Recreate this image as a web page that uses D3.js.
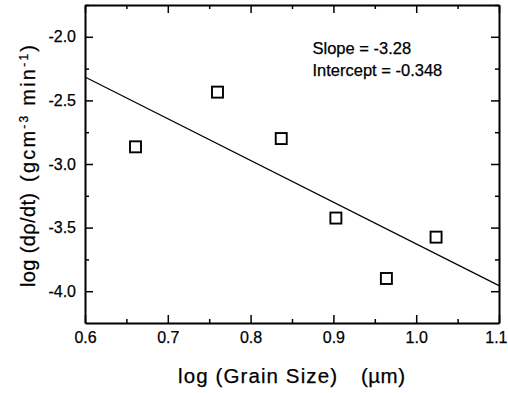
<!DOCTYPE html>
<html><head><meta charset="utf-8">
<script src="https://cdn.jsdelivr.net/npm/d3@7"></script>
<style>body{margin:0;background:#fff}svg{display:block}text{font-family:"Liberation Sans",Arial,sans-serif;fill:#000;stroke:#000;stroke-width:0.25px}</style>
</head><body>
<svg id="c" width="508" height="393"></svg>
<script>
const grainLog = [0.661, 0.760, 0.837, 0.903, 0.964, 1.024];
const rateLog = [-2.865, -2.435, -2.80, -3.425, -3.90, -3.575];
const slope = -3.28, intercept = -0.348;
const xTicks = [0.6, 0.7, 0.8, 0.9, 1.0, 1.1];
const yTicks = [-2.0, -2.5, -3.0, -3.5, -4.0];
const xMinor = [0.65, 0.75, 0.85, 0.95, 1.05];
const yMinor = [-1.75, -2.25, -2.75, -3.25, -3.75];
const xDomain = [0.6, 1.1], yDomain = [-4.25, -1.75];

const svg = d3.select("#c");
const L = 85, R = 499, T = 5, B = 323;
const x = d3.scaleLinear().domain(xDomain).range([L, R]);
const y = d3.scaleLinear().domain(yDomain).range([B, T]);

function axis(gen, tr, ticks, minor, fmt, pad) {
  const g = svg.append("g").attr("transform", tr).call(gen.tickValues(ticks).tickSizeInner(-8).tickSizeOuter(0).tickPadding(pad).tickFormat(fmt));
  g.select(".domain").attr("stroke-width", 2);
  g.selectAll(".tick line").attr("stroke-width", 1.5);
  g.selectAll("text").attr("font-size", 16).attr("fill", "#000").attr("font-family", null);
  const gm = svg.append("g").attr("transform", tr).call(gen.tickValues(minor).tickSizeInner(-4).tickFormat(""));
  gm.select(".domain").remove();
  gm.selectAll(".tick line").attr("stroke-width", 1.5);
  return g;
}
const f1 = d => d3.format(".1f")(d).replace("\u2212", "-");
const gx = axis(d3.axisBottom(x), `translate(0,${B})`, xTicks, xMinor, f1, 9);
gx.selectAll(".tick").filter(d => d === xDomain[1]).select("text").attr("text-anchor", "end").attr("x", 8);
axis(d3.axisLeft(y), `translate(${L},0)`, yTicks, yMinor, f1, 9);
const gt = axis(d3.axisTop(x), `translate(0,${T})`, xTicks, xMinor, "", 0); gt.selectAll("text").remove();
const gr = axis(d3.axisRight(y), `translate(${R},0)`, yTicks, yMinor, "", 0); gr.selectAll("text").remove();

// fit line
svg.append("line")
  .attr("x1", x(xDomain[0])).attr("y1", y(intercept + slope * xDomain[0]))
  .attr("x2", x(xDomain[1])).attr("y2", y(intercept + slope * xDomain[1]))
  .attr("stroke", "#000").attr("stroke-width", 1.2);

svg.selectAll("rect.pt").data(grainLog).enter().append("rect").attr("class", "pt")
  .attr("x", (d) => x(d) - 5.5).attr("y", (d, i) => y(rateLog[i]) - 5.5)
  .attr("width", 11).attr("height", 11)
  .attr("fill", "none").attr("stroke", "#000").attr("stroke-width", 1.9);

svg.append("text").attr("x", 312.5).attr("y", 53.5).attr("font-size", 16.5).text("Slope = " + slope);
svg.append("text").attr("x", 312.5).attr("y", 75.5).attr("font-size", 16.5).text("Intercept = " + intercept);

function fit(sel, target, n) {
  n = n || sel.text().length;
  const len = sel.node().getComputedTextLength();
  sel.attr("letter-spacing", Math.max(0, (target - len) / (n - 1)));
}
fit(svg.append("text").attr("x", 178).attr("y", 383).attr("font-size", 20.5).text("log (Grain Size)"), 159);
fit(svg.append("text").attr("x", 361).attr("y", 383).attr("font-size", 20.5).text("(\u00b5m)"), 44);

const y1 = svg.append("text").attr("transform", "translate(35,287) rotate(-90)").attr("font-size", 20).text("log (d\u03c1/dt)");
fit(y1, 94);
const y2 = svg.append("text").attr("transform", "translate(35,182) rotate(-90)").attr("font-size", 20);
y2.append("tspan").text("(gcm");
y2.append("tspan").attr("dy", -7).attr("font-size", 12).text("-3");
y2.append("tspan").attr("dy", 7).text(" min");
y2.append("tspan").attr("dy", -7).attr("font-size", 12).text("-1");
y2.append("tspan").attr("dy", 7).text(")");
fit(y2, 137, 13);
</script>
</body></html>
